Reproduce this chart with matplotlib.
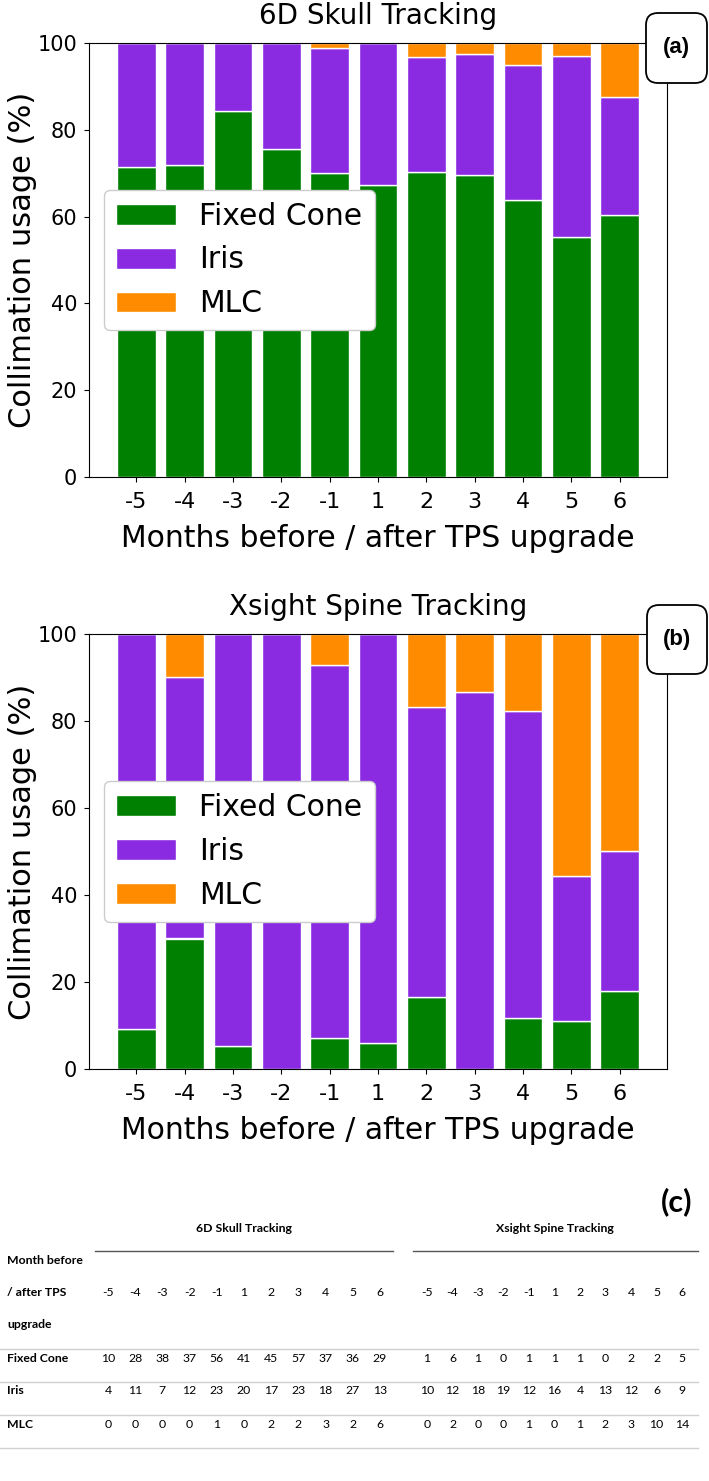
import numpy as np
import matplotlib.pyplot as plt
from matplotlib.lines import Line2D
from matplotlib.patches import FancyBboxPatch

# Data: monthly counts per collimator (from the table, panel c)
months = ["-5", "-4", "-3", "-2", "-1", "1", "2", "3", "4", "5", "6"]

skull_fixed = [10, 28, 38, 37, 56, 41, 45, 57, 37, 36, 29]
skull_iris = [4, 11, 7, 12, 23, 20, 17, 23, 18, 27, 13]
skull_mlc = [0, 0, 0, 0, 1, 0, 2, 2, 3, 2, 6]

spine_fixed = [1, 6, 1, 0, 1, 1, 1, 0, 2, 2, 5]
spine_iris = [10, 12, 18, 19, 12, 16, 4, 13, 12, 6, 9]
spine_mlc = [0, 2, 0, 0, 1, 0, 1, 2, 3, 10, 14]

c_fixed = "green"
c_iris = "blueviolet"
c_mlc = "darkorange"

W, H = 709, 1481
fig = plt.figure(figsize=(W / 100, H / 100), dpi=100)


def px(x0, y0, x1, y1):
    # pixel box -> figure rect
    return [x0 / W, 1 - y1 / H, (x1 - x0) / W, (y1 - y0) / H]


def tag_box(x0, y0, x1, y1, s):
    # rounded label box, drawn in pixel coords
    box = FancyBboxPatch((x0, H - y1), x1 - x0, y1 - y0,
                         boxstyle="round,pad=0,rounding_size=12",
                         fc="white", ec="black", lw=1.3, transform=None, zorder=5)
    fig.add_artist(box)
    fig.text((x0 + x1) / 2 / W, 1 - (y0 + y1) / 2 / H, s, family="Liberation Sans",
             fontsize=16, fontweight="bold", ha="center", va="center", zorder=6)


def panel(rect, fixed, iris, mlc, title):
    ax = fig.add_axes(rect)
    fixed = np.array(fixed, float)
    iris = np.array(iris, float)
    mlc = np.array(mlc, float)
    tot = fixed + iris + mlc
    pf = fixed / tot * 100
    pi = iris / tot * 100
    pm = mlc / tot * 100
    x = np.arange(len(months))
    ax.bar(x, pf, 0.8, color=c_fixed, edgecolor="white", linewidth=1, label="Fixed Cone")
    ax.bar(x, pi, 0.8, bottom=pf, color=c_iris, edgecolor="white", linewidth=1, label="Iris")
    ax.bar(x, pm, 0.8, bottom=pf + pi, color=c_mlc, edgecolor="white", linewidth=1, label="MLC")
    ax.set_xlim(-0.98, 10.98)
    ax.set_ylim(0, 100)
    ax.set_xticks(x)
    ax.set_xticklabels(months)
    ax.tick_params(axis="x", labelsize=16, pad=7)
    ax.tick_params(axis="y", labelsize=15, pad=5)
    ax.set_title(title, fontsize=20, pad=14)
    ax.set_xlabel("Months before / after TPS upgrade", fontsize=21.5, labelpad=9)
    ax.set_ylabel("Collimation usage (%)", fontsize=22, labelpad=0)
    ax.legend(loc="center left", fontsize=21.5, framealpha=1)
    return ax


panel(px(89, 43, 667, 477), skull_fixed, skull_iris, skull_mlc, "6D Skull Tracking")
panel(px(89, 634, 667, 1069), spine_fixed, spine_iris, spine_mlc, "Xsight Spine Tracking")
tag_box(646, 13, 707, 83, "(a)")
tag_box(647, 605, 707, 674, "(b)")

# Panel (c): the table
tf = "Lato"
fs = 8.8


def t(x, y, s, **kw):
    fig.text(x / W, 1 - y / H, s, family=tf, va="center", **kw)


def hline(x0, x1, y, color, lw):
    fig.add_artist(Line2D([x0 / W, x1 / W], [1 - y / H, 1 - y / H],
                          transform=fig.transFigure, color=color, lw=lw))


t(677, 1202, "(c)", fontsize=22, fontweight="bold", ha="center")
t(244, 1228, "6D Skull Tracking", fontsize=fs, fontweight="bold", ha="center")
t(555, 1228, "Xsight Spine Tracking", fontsize=fs, fontweight="bold", ha="center")
hline(95, 393, 1251, "#555555", 1.0)
hline(413, 698, 1251, "#555555", 1.0)

t(7, 1260, "Month before", fontsize=fs, fontweight="bold")
t(7, 1293, "/ after TPS", fontsize=fs, fontweight="bold")
t(7, 1325, "upgrade", fontsize=fs, fontweight="bold")

skull_x = np.linspace(108, 380, len(months))
spine_x = np.linspace(427, 682, len(months))

rows = [("Fixed Cone", skull_fixed, spine_fixed, 1358),
        ("Iris", skull_iris, spine_iris, 1391),
        ("MLC", skull_mlc, spine_mlc, 1424)]

for i, m in enumerate(months):
    t(skull_x[i], 1293, m, fontsize=fs, ha="center")
    t(spine_x[i], 1293, m, fontsize=fs, ha="center")

for y_line in [1349, 1382, 1415, 1448]:
    hline(0, 698, y_line, "#d0d0d0", 1.0)

for name, a, b, y in rows:
    t(7, y, name, fontsize=fs, fontweight="bold")
    for i in range(len(months)):
        t(skull_x[i], y, str(a[i]), fontsize=fs, ha="center")
        t(spine_x[i], y, str(b[i]), fontsize=fs, ha="center")

fig.savefig("out.png", dpi=100)
